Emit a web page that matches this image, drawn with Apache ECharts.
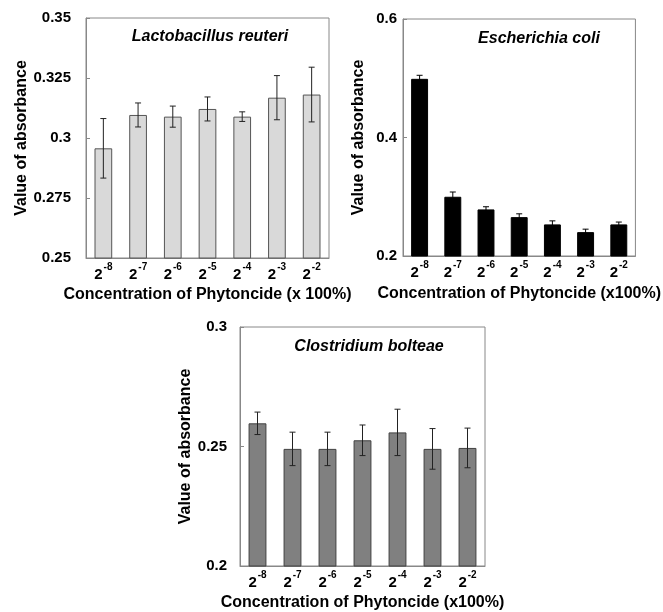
<!DOCTYPE html>
<html>
<head>
<meta charset="utf-8">
<script src="https://cdn.jsdelivr.net/npm/echarts@6/dist/echarts.min.js"></script>
<style>
html,body{margin:0;padding:0;background:#fff;}
#c{width:663px;height:612px;}
</style>
</head>
<body>
<div id="c"></div>
<script>
var categories = ['-8','-7','-6','-5','-4','-3','-2'];

var lactoMean = [0.2957, 0.3096, 0.3089, 0.3121, 0.3089, 0.3168, 0.3181];
var lactoErr  = [0.0124, 0.0050, 0.0044, 0.0050, 0.0020, 0.0092, 0.0114];

var ecoliMean = [0.499, 0.300, 0.2786, 0.2656, 0.2533, 0.2403, 0.2533];
var ecoliErr  = [0.006, 0.008, 0.0045, 0.0056, 0.0060, 0.0050, 0.0040];

var closMean = [0.2597, 0.2490, 0.2490, 0.2526, 0.2559, 0.2490, 0.2494];
var closErr  = [0.0047, 0.0070, 0.0070, 0.0064, 0.0097, 0.0085, 0.0083];

var yTicks1 = [0.25, 0.35, 0.025];
var yTicks2 = [0.2, 0.6, 0.2];
var yTicks3 = [0.2, 0.3, 0.05];

var titles = ['Lactobacillus reuteri', 'Escherichia coli', 'Clostridium bolteae'];
var xNames = ['Concentration of Phytoncide (x 100%)', 'Concentration of Phytoncide (x100%)', 'Concentration of Phytoncide (x100%)'];
var yName = 'Value of absorbance';

var FONT = 'Liberation Sans, Arial, sans-serif';
var chart = echarts.init(document.getElementById('c'), null, {renderer:'canvas'});

var grids = [
  {left:86, top:18, width:243, height:240},
  {left:403, top:19, width:258, height:237},
  {left:240, top:327, width:245, height:239}
];

function xAxis(i, gap){
  return {
    gridIndex:i, type:'category', data:categories,
    axisLine:{show:true, lineStyle:{color:'#888', width:1}},
    axisTick:{show:false},
    axisLabel:{
      interval:0, margin:4,
      formatter:function(v){ return '{m|2}{s|' + v + '}'; },
      rich:{
        m:{fontSize:15, fontWeight:'bold', fontFamily:FONT, color:'#000', lineHeight:20, verticalAlign:'bottom'},
        s:{fontSize:10, fontWeight:'bold', fontFamily:FONT, color:'#000', lineHeight:10, verticalAlign:'top', padding:[0,0,0,1]}
      }
    },
    name:xNames[i], nameLocation:'middle', nameGap:gap,
    nameTextStyle:{fontSize:16, fontWeight:'bold', fontFamily:FONT, color:'#000'}
  };
}
function yAxis(i, t, nameGap, labelMargin){
  return {
    gridIndex:i, type:'value', min:t[0], max:t[1], interval:t[2],
    axisLine:{show:true, lineStyle:{color:'#888', width:1}},
    axisTick:{show:true, inside:true, length:4, lineStyle:{color:'#888'}},
    splitLine:{show:false},
    axisLabel:{margin:labelMargin, fontSize:15, fontWeight:'bold', fontFamily:FONT, color:'#000'},
    name:yName, nameLocation:'middle', nameGap:nameGap,
    nameTextStyle:{fontSize:16, fontWeight:'bold', fontFamily:FONT, color:'#000'}
  };
}
function barSeries(i, data, color, border){
  return {
    type:'bar', xAxisIndex:i, yAxisIndex:i, data:data, barWidth:'51%',
    itemStyle:{color:color, borderColor:border, borderWidth:1},
    silent:true, animation:false
  };
}
function errSeries(i, mean, err, color){
  var d = mean.map(function(m, k){ return [k, m - err[k], m + err[k]]; });
  return {
    type:'custom', xAxisIndex:i, yAxisIndex:i, data:d, silent:true, animation:false,
    encode:{x:0, y:[1,2]}, z:5,
    renderItem:function(params, api){
      var x = api.value(0);
      var lo = api.coord([x, api.value(1)]);
      var hi = api.coord([x, api.value(2)]);
      var hw = 3;
      var st = {stroke:color, lineWidth:1};
      return {type:'group', children:[
        {type:'line', shape:{x1:lo[0], y1:lo[1], x2:hi[0], y2:hi[1]}, style:st},
        {type:'line', shape:{x1:hi[0]-hw, y1:hi[1], x2:hi[0]+hw, y2:hi[1]}, style:st},
        {type:'line', shape:{x1:lo[0]-hw, y1:lo[1], x2:lo[0]+hw, y2:lo[1]}, style:st}
      ]};
    }
  };
}

var gridOpts = grids.map(function(g){
  return Object.assign({show:true, borderColor:'#888', borderWidth:1, backgroundColor:'transparent'}, g);
});

var titleStyle = {fontSize:16, fontWeight:'bold', fontStyle:'italic', fontFamily:FONT, color:'#000'};
var option = {
  backgroundColor:'#fff',
  animation:false,
  title:[
    {text:titles[0], left:205, top:24, textAlign:'center', textStyle:titleStyle},
    {text:titles[1], left:534, top:26, textAlign:'center', textStyle:titleStyle},
    {text:titles[2], left:364, top:334, textAlign:'center', textStyle:titleStyle}
  ],
  grid:gridOpts,
  xAxis:[xAxis(0, 29), xAxis(1, 30), xAxis(2, 29)],
  yAxis:[yAxis(0, yTicks1, 51, 15), yAxis(1, yTicks2, 36, 6), yAxis(2, yTicks3, 46, 13)],
  series:[
    barSeries(0, lactoMean, '#d9d9d9', '#555'),
    errSeries(0, lactoMean, lactoErr, '#222'),
    barSeries(1, ecoliMean, '#000', '#000'),
    errSeries(1, ecoliMean, ecoliErr, '#000'),
    barSeries(2, closMean, '#808080', '#404040'),
    errSeries(2, closMean, closErr, '#222')
  ]
};
chart.setOption(option);
</script>
</body>
</html>
